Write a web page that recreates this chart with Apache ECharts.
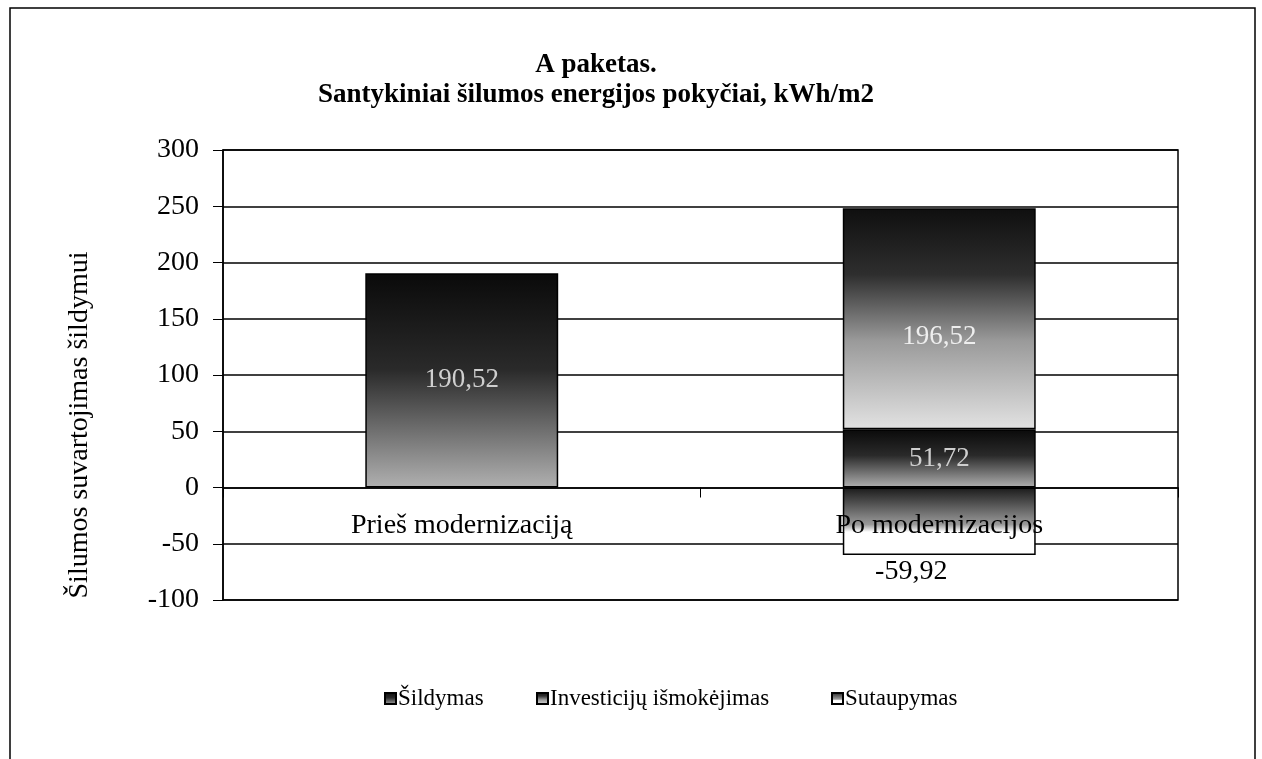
<!DOCTYPE html>
<html>
<head>
<meta charset="utf-8">
<script src="https://cdn.jsdelivr.net/npm/echarts@6/dist/echarts.min.js"></script>
<style>
html,body{margin:0;padding:0;background:#fff;}
#chart{width:1262px;height:759px;}
</style>
</head>
<body>
<div id="chart"></div>
<script>
var categories=['Prieš modernizaciją','Po modernizacijos'];
var seriesNames=['Šildymas','Investicijų išmokėjimas','Sutaupymas'];
var data_sildymas=[190.52, 51.72];
var data_investicijos=[null, 196.52];
var data_sutaupymas=[null, -59.92];
var yTicks={min:-100,max:300,interval:50};

function grad(stops){
	return new echarts.graphic.LinearGradient(0,0,0,1,stops);
}
function fmt(p){
	return String(p.value).replace('.',',');
}

var serif='"Liberation Serif","DejaVu Serif",serif';
var legendLeft=[379,531,826];
var legends=seriesNames.map(function(n,i){
	return {
		left:legendLeft[i],
		top:682,
		icon:'rect',
		itemWidth:11,
		itemHeight:11,
		itemGap:0,
		textStyle:{fontFamily:serif,fontSize:23,color:'#000',padding:[0,0,0,-3]},
		data:[n]
	};
});

var option={
	animation:false,
	backgroundColor:'#fff',
	title:{
		text:'A paketas.\nSantykiniai šilumos energijos pokyčiai, kWh/m2',
		left:591,
		top:45,
		textAlign:'center',
		textStyle:{
			fontFamily:serif,
			fontWeight:'bold',
			fontSize:27,
			lineHeight:30,
			color:'#000'
		}
	},
	legend:legends,
	grid:{
		left:223,
		right:84,
		top:150,
		bottom:159,
		show:true,
		borderColor:'#000',
		borderWidth:1.5
	},
	xAxis:{
		type:'category',
		data:categories,
		z:5,
		axisLine:{lineStyle:{color:'#000',width:1.5}},
		axisTick:{show:true,length:10,lineStyle:{color:'#000'}},
		axisLabel:{fontFamily:serif,fontSize:28,color:'#000',margin:-88}
	},
	yAxis:{
		type:'value',
		min:yTicks.min,
		max:yTicks.max,
		interval:yTicks.interval,
		axisLine:{show:true,lineStyle:{color:'#000',width:1.5}},
		axisTick:{show:true,length:10,lineStyle:{color:'#000'}},
		axisLabel:{fontFamily:serif,fontSize:28,color:'#000',margin:24},
		splitLine:{lineStyle:{color:'#000',width:1.5}}
	},
	graphic:[
		{
			type:'rect',
			shape:{x:10,y:8,width:1245,height:800},
			style:{fill:'none',stroke:'#000',lineWidth:1.5},
			silent:true
		},
		{
			type:'text',
			x:80,
			y:425,
			rotation:Math.PI/2,
			style:{
				text:'Šilumos suvartojimas šildymui',
				fontFamily:serif,
				fontSize:28,
				fill:'#000',
				textAlign:'center',
				textVerticalAlign:'middle'
			}
		}
	],
	series:[
		{
			name:seriesNames[0],
			type:'bar',
			stack:'a',
			barWidth:'40.4%',
			data:data_sildymas,
			itemStyle:{
				color:grad([{offset:0,color:'#0a0a0a'},{offset:0.45,color:'#2a2a2a'},{offset:1,color:'#b0b0b0'}]),
				borderColor:'#000',
				borderWidth:1.5
			},
			label:{show:true,position:'inside',fontFamily:serif,fontSize:27,color:'#cfcfcf',formatter:fmt}
		},
		{
			name:seriesNames[1],
			type:'bar',
			stack:'a',
			data:data_investicijos,
			itemStyle:{
				color:grad([{offset:0,color:'#0f0f0f'},{offset:0.3,color:'#2e2e2e'},{offset:0.6,color:'#9a9a9a'},{offset:1,color:'#e2e2e2'}]),
				borderColor:'#000',
				borderWidth:1.5
			},
			label:{show:true,position:'inside',offset:[0,18],fontFamily:serif,fontSize:27,color:'#eeeeee',formatter:fmt}
		},
		{
			name:seriesNames[2],
			type:'bar',
			stack:'a',
			data:data_sutaupymas,
			itemStyle:{
				color:grad([{offset:0,color:'#1a1a1a'},{offset:0.55,color:'#9a9a9a'},{offset:0.66,color:'#ffffff'},{offset:1,color:'#ffffff'}]),
				borderColor:'#000',
				borderWidth:1.5
			},
			label:{show:true,position:'bottom',distance:3,offset:[-28,0],fontFamily:serif,fontSize:28,color:'#000',formatter:fmt}
		}
	]
};

var myChart=echarts.init(document.getElementById('chart'));
myChart.setOption(option);
</script>
</body>
</html>
